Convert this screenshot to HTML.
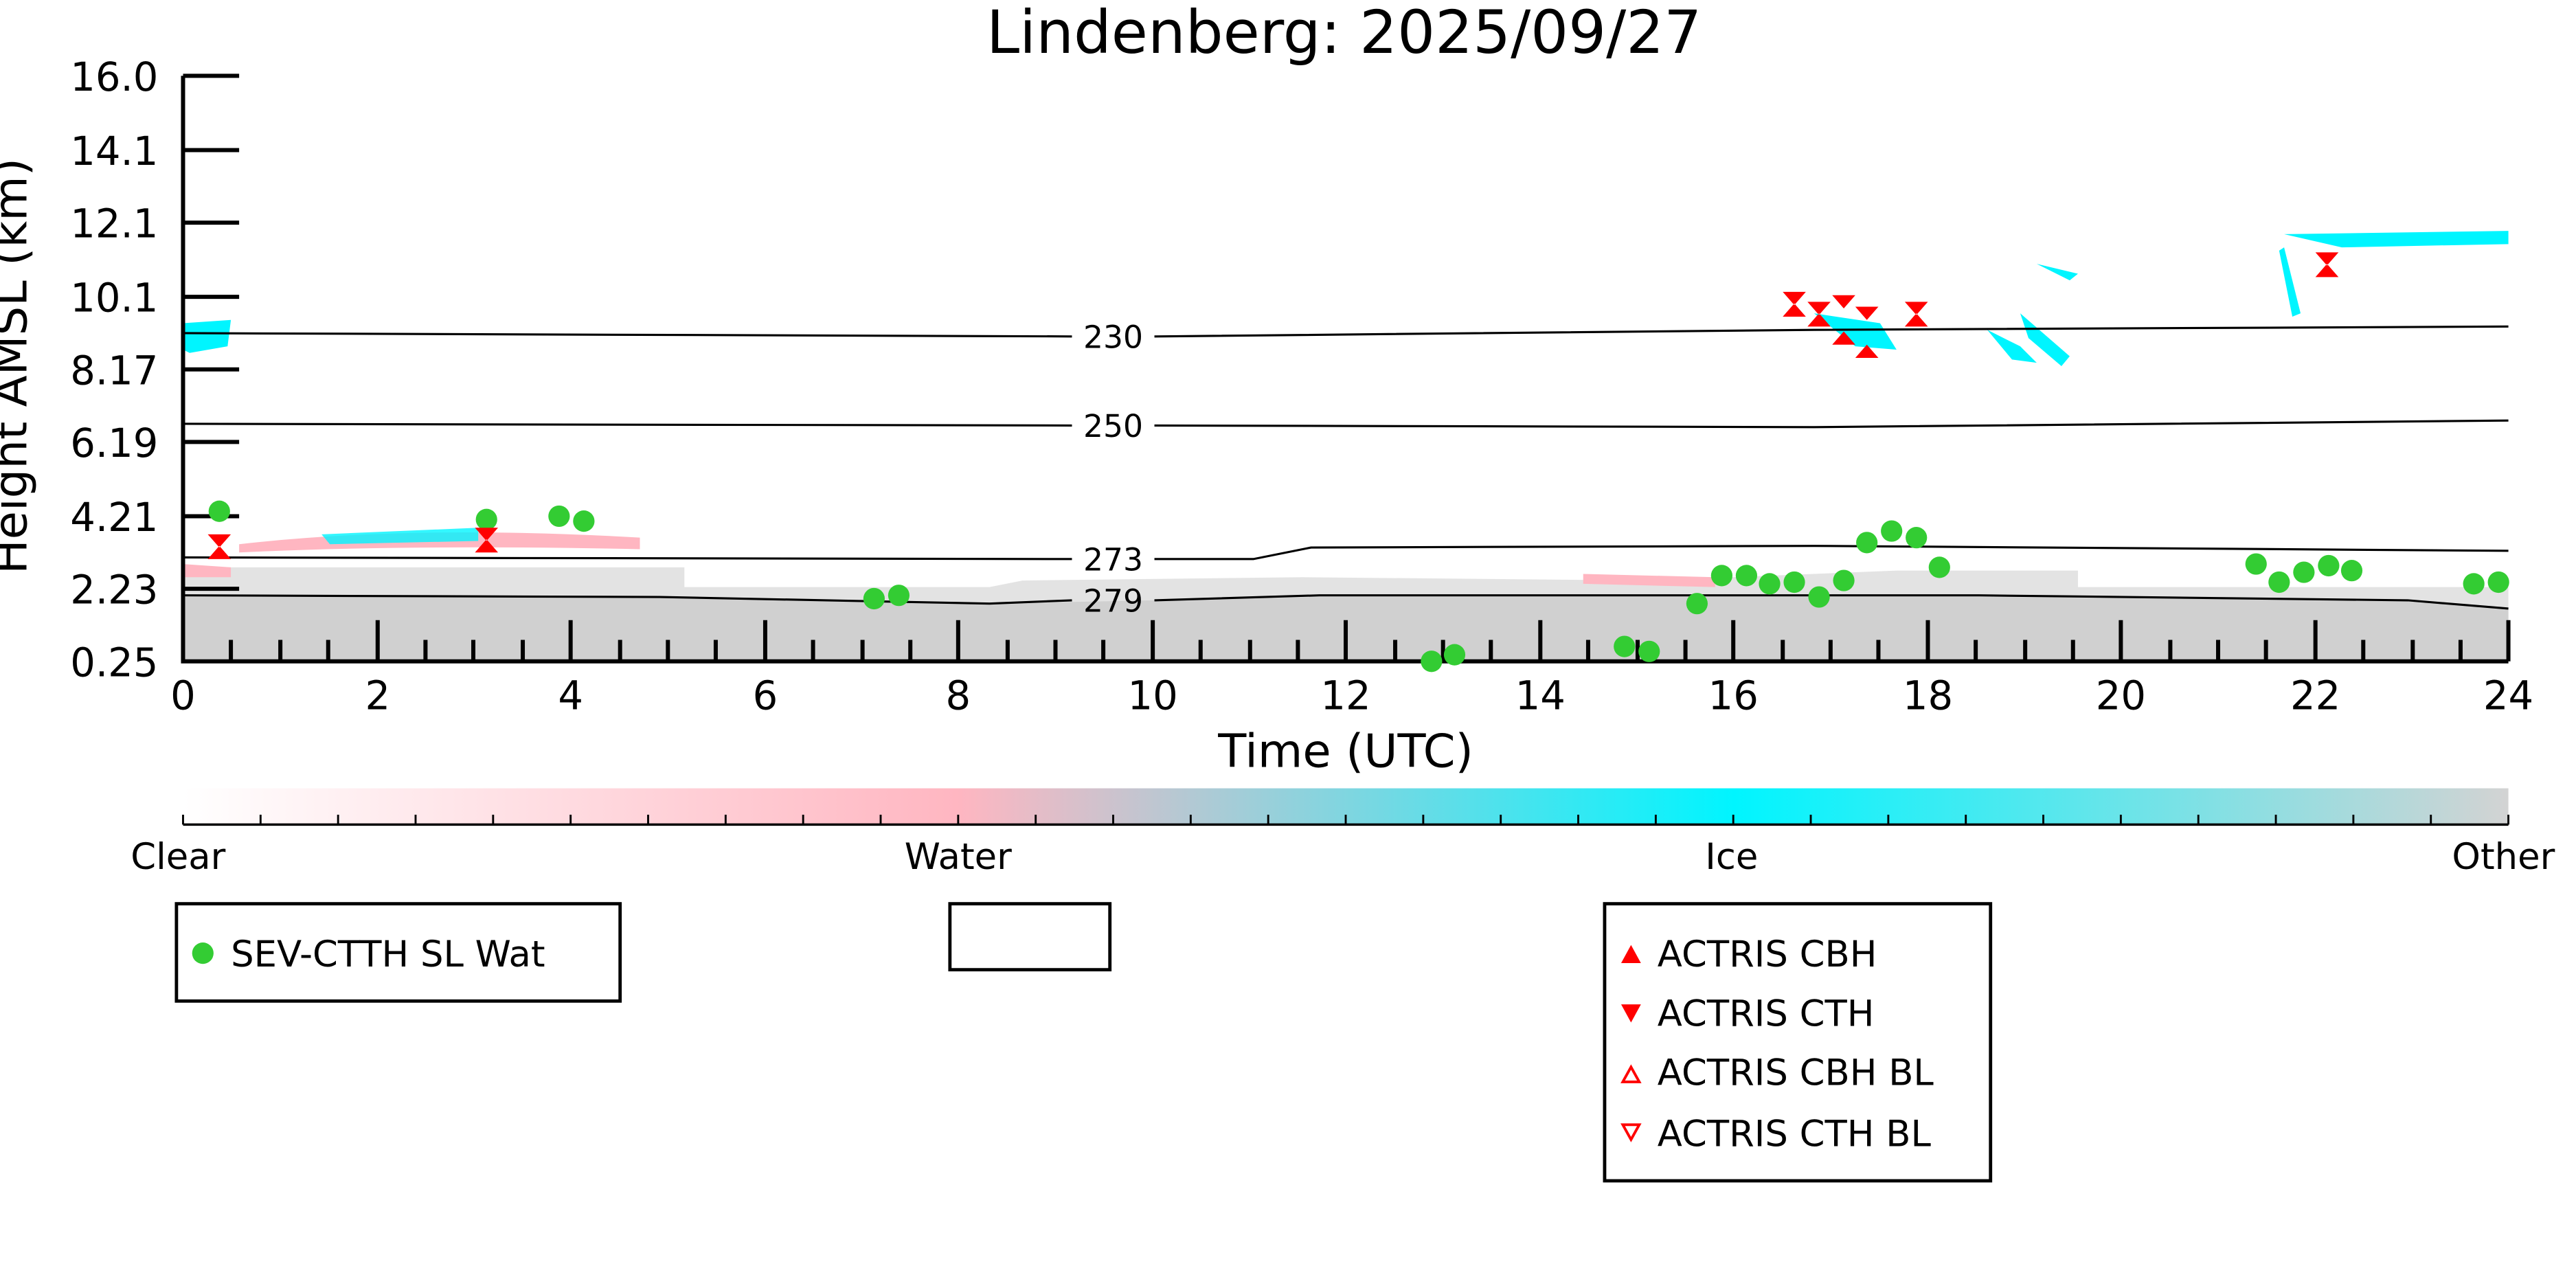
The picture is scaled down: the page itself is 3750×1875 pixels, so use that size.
<!DOCTYPE html>
<html><head><meta charset="utf-8"><style>html,body{margin:0;padding:0;background:#fff}svg{display:block}</style></head>
<body>
<svg xmlns="http://www.w3.org/2000/svg" width="3750" height="1875" viewBox="0 0 1562 781" font-family="'DejaVu Sans','Liberation Sans',sans-serif">
<defs>
<linearGradient id="cb" x1="0" x2="1" y1="0" y2="0">
<stop offset="0" stop-color="#ffffff"/>
<stop offset="0.333" stop-color="#ffb6c1"/>
<stop offset="0.667" stop-color="#00f5ff"/>
<stop offset="1" stop-color="#d3d3d3"/>
</linearGradient>
</defs>
<rect width="1562" height="781" fill="#fff"/>
<text x="815" y="32" font-size="36" text-anchor="middle">Lindenberg: 2025/09/27</text>
<path d="M111,344 L415,344 L415,356 L600,356 L620,352 L790,350 L1000,352 L1150,346 L1260,346 L1260,356 L1521,356 L1521,400 L111,400 Z" fill="#dcdcdc" opacity="0.8"/>
<path d="M111,362 L400,362 L600,366 L800,362 L1200,362 L1460,364 L1521,369 L1521,400 L111,400 Z" fill="#d0d0d0"/>
<path d="M145,330 Q250,318 388,326 L388,333 Q250,330 145,335 Z" fill="#ffb6c1"/>
<path d="M960,348 L1040,350 L1040,356 L960,354 Z" fill="#ffb6c1"/>
<path d="M111,342 L140,344 L140,350 L111,350 Z" fill="#ffb6c1"/>
<path d="M111,196 L140,194 L138,210 L115,214 L111,212 Z" fill="#00f5ff"/>
<path d="M195,324 L290,320 L290,328 L200,330 Z" fill="#00f5ff" opacity="0.8"/>
<path d="M1100,190 L1140,196 L1150,212 L1125,210 Z" fill="#00f5ff"/>
<path d="M1205,200 L1225,210 L1235,220 L1220,218 Z" fill="#00f5ff"/>
<path d="M1225,190 L1255,216 L1250,222 L1230,205 Z" fill="#00f5ff"/>
<path d="M1385,142 L1521,140 L1521,148 L1420,150 Z" fill="#00f5ff"/>
<path d="M1385,150 L1395,190 L1390,192 L1382,152 Z" fill="#00f5ff"/>
<path d="M1235,160 L1260,166 L1255,170 Z" fill="#00f5ff"/>
<g fill="none" stroke="#000" stroke-width="1.3">
<path d="M111,202 L650,204 M700,204 L1100,200 L1521,198"/>
<path d="M111,257 L650,258 M700,258 L1100,259 L1521,255"/>
<path d="M111,338 L650,339 M700,339 L760,339 L795,332 L1100,331 L1521,334"/>
<path d="M111,361 L400,362 L600,366 L650,364 M700,364 L800,361 L1200,361 L1460,364 L1521,369"/>
</g>
<g font-size="19" text-anchor="middle">
<text x="675" y="211">230</text><text x="675" y="265">250</text>
<text x="675" y="346">273</text><text x="675" y="371">279</text>
</g>
<g stroke="#000" stroke-width="2.5" fill="none">
<path d="M111,46 L111,401 L1521,401"/>
<path d="M111,46h34M111,91h34M111,135h34M111,180h34M111,224h34M111,268h34M111,313h34M111,357h34"/>
<path d="M111,376v25M229,376v25M346,376v25M464,376v25M581,376v25M699,376v25M816,376v25M934,376v25M1051,376v25M1169,376v25M1286,376v25M1404,376v25M1521,376v25"/>
<path d="M140,388v13M170,388v13M199,388v13M258,388v13M287,388v13M317,388v13M376,388v13M405,388v13M434,388v13M493,388v13M523,388v13M552,388v13M611,388v13M640,388v13M669,388v13M728,388v13M758,388v13M787,388v13M846,388v13M875,388v13M904,388v13M963,388v13M993,388v13M1022,388v13M1081,388v13M1110,388v13M1139,388v13M1198,388v13M1228,388v13M1257,388v13M1316,388v13M1345,388v13M1374,388v13M1433,388v13M1463,388v13M1492,388v13"/>
</g>
<g font-size="24" text-anchor="end">
<text x="96" y="55">16.0</text><text x="96" y="100">14.1</text><text x="96" y="144">12.1</text><text x="96" y="189">10.1</text><text x="96" y="233">8.17</text><text x="96" y="277">6.19</text><text x="96" y="322">4.21</text><text x="96" y="366">2.23</text><text x="96" y="410">0.25</text>
</g>
<g font-size="24" text-anchor="middle">
<text x="111" y="430">0</text><text x="229" y="430">2</text><text x="346" y="430">4</text><text x="464" y="430">6</text><text x="581" y="430">8</text><text x="699" y="430">10</text><text x="816" y="430">12</text><text x="934" y="430">14</text><text x="1051" y="430">16</text><text x="1169" y="430">18</text><text x="1286" y="430">20</text><text x="1404" y="430">22</text><text x="1521" y="430">24</text>
</g>
<text x="816" y="465" font-size="28" text-anchor="middle">Time (UTC)</text>
<text transform="translate(16,222) rotate(-90)" font-size="28" text-anchor="middle">Height AMSL (km)</text>
<g fill="#33cc33">
<circle cx="133" cy="310" r="6.5"/><circle cx="295" cy="315" r="6.5"/><circle cx="339" cy="313" r="6.5"/><circle cx="354" cy="316" r="6.5"/><circle cx="530" cy="363" r="6.5"/><circle cx="545" cy="361" r="6.5"/><circle cx="868" cy="401" r="6.5"/><circle cx="882" cy="397" r="6.5"/><circle cx="985" cy="392" r="6.5"/><circle cx="1000" cy="395" r="6.5"/><circle cx="1029" cy="366" r="6.5"/><circle cx="1044" cy="349" r="6.5"/><circle cx="1059" cy="349" r="6.5"/><circle cx="1073" cy="354" r="6.5"/><circle cx="1088" cy="353" r="6.5"/><circle cx="1103" cy="362" r="6.5"/><circle cx="1118" cy="352" r="6.5"/><circle cx="1132" cy="329" r="6.5"/><circle cx="1147" cy="322" r="6.5"/><circle cx="1162" cy="326" r="6.5"/><circle cx="1176" cy="344" r="6.5"/><circle cx="1368" cy="342" r="6.5"/><circle cx="1382" cy="353" r="6.5"/><circle cx="1397" cy="347" r="6.5"/><circle cx="1412" cy="343" r="6.5"/><circle cx="1426" cy="346" r="6.5"/><circle cx="1500" cy="354" r="6.5"/><circle cx="1515" cy="353" r="6.5"/>
</g>
<g fill="#ff0000">
<path d="M126,324h14l-7,8zM126,339h14l-7,-8z"/>
<path d="M288,320h14l-7,8zM288,335h14l-7,-8z"/>
<path d="M1081,177h14l-7,8zM1081,192h14l-7,-8z"/>
<path d="M1096,183h14l-7,8zM1096,198h14l-7,-8z"/>
<path d="M1111,179h14l-7,8zM1111,209h14l-7,-8z"/>
<path d="M1125,186h14l-7,8zM1125,217h14l-7,-8z"/>
<path d="M1155,183h14l-7,8zM1155,198h14l-7,-8z"/>
<path d="M1404,153h14l-7,8zM1404,168h14l-7,-8z"/>
</g>
<rect x="111" y="478" width="1410" height="22" fill="url(#cb)"/>
<g stroke="#000" stroke-width="1.2">
<path d="M111,500v-6M158,500v-6M205,500v-6M252,500v-6M299,500v-6M346,500v-6M393,500v-6M440,500v-6M487,500v-6M534,500v-6M581,500v-6M628,500v-6M675,500v-6M722,500v-6M769,500v-6M816,500v-6M863,500v-6M910,500v-6M957,500v-6M1004,500v-6M1051,500v-6M1098,500v-6M1145,500v-6M1192,500v-6M1239,500v-6M1286,500v-6M1333,500v-6M1380,500v-6M1427,500v-6M1474,500v-6M1521,500v-6"/>
<path d="M111,500h1410" stroke-width="1.5"/>
</g>
<g font-size="22" text-anchor="middle">
<text x="108" y="527">Clear</text><text x="581" y="527">Water</text><text x="1050" y="527">Ice</text><text x="1518" y="527">Other</text>
</g>
<g fill="none" stroke="#000" stroke-width="2">
<rect x="107" y="548" width="269" height="59"/>
<rect x="576" y="548" width="97" height="40"/>
<rect x="973" y="548" width="234" height="168"/>
</g>
<circle cx="123" cy="578" r="6.5" fill="#33cc33"/>
<text x="140" y="586" font-size="22">SEV-CTTH SL Wat</text>
<path d="M983,584h12l-6,-11z" fill="#ff0000"/>
<path d="M983,609h12l-6,11z" fill="#ff0000"/>
<path d="M984,656h10l-5,-9z" fill="none" stroke="#ff0000" stroke-width="1.6"/>
<path d="M984,682h10l-5,9z" fill="none" stroke="#ff0000" stroke-width="1.6"/>
<g font-size="22">
<text x="1005" y="586">ACTRIS CBH</text><text x="1005" y="622">ACTRIS CTH</text><text x="1005" y="658">ACTRIS CBH BL</text><text x="1005" y="695">ACTRIS CTH BL</text>
</g>
</svg>
</body></html>
